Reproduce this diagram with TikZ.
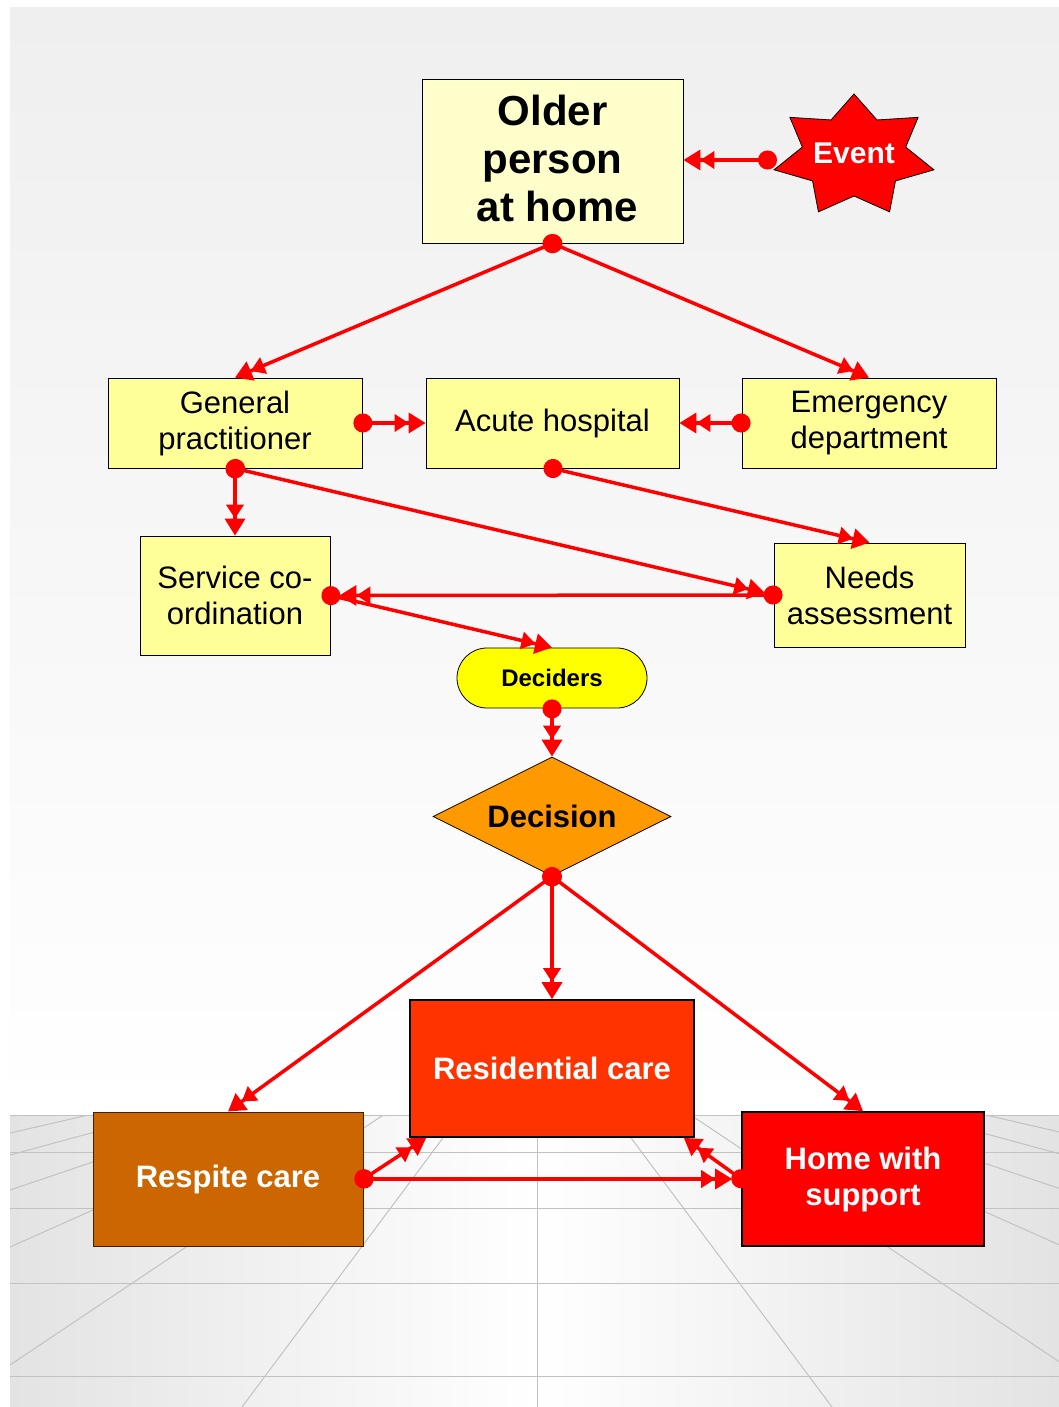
\documentclass[tikz,border=0pt]{standalone}
\usepackage{fontspec}
\setmainfont{Liberation Sans}
\usetikzlibrary{arrows.meta,shapes.geometric,calc}

\definecolor{boxyellow}{HTML}{FFFF99}
\definecolor{paleyellow}{HTML}{FFFFCC}
\definecolor{deciderfill}{HTML}{FFFF00}
\definecolor{decisionfill}{HTML}{FF9900}
\definecolor{residentialfill}{HTML}{FF3300}
\definecolor{respitefill}{HTML}{CC6600}
\definecolor{homefill}{HTML}{FF0000}
\definecolor{floorgrey}{HTML}{E3E3E3}
\definecolor{skytop}{HTML}{EFEFEF}
\definecolor{gridgrey}{HTML}{C2C2C2}
\definecolor{linkred}{HTML}{FF0000}

\begin{document}
\begin{tikzpicture}[x=1pt,y=-1pt,
  box/.style={draw=black, line width=0.8pt, fill=boxyellow, inner sep=0pt,
    align=center, font=\fontsize{31}{36}\selectfont},
  bigbox/.style={draw=black, line width=1.6pt, inner sep=0pt, align=center,
    text=white, font=\bfseries\fontsize{31}{36}\selectfont},
  gridline/.style={draw=gridgrey, line width=1pt},
  conn/.style={draw=linkred, line width=3.5pt, shorten <=-9pt,
    {Circle[length=19pt]}-{Triangle[length=14pt,width=17pt,sep=0pt]Triangle[length=17pt,width=20pt,sep=0pt]}},
  burst/.style={draw=black, line width=0.8pt, fill=homefill}
]
\useasboundingbox (0,0) rectangle (1059,1407);

% backdrop: wall fading towards the horizon, then the tiled floor
\fill[white] (0,0) rectangle (1059,1407);
\shade[top color=skytop, bottom color=white] (10,8) rectangle (1059,1115);
\shade[left color=floorgrey, right color=floorgrey, middle color=white] (10,1115) rectangle (1059,1407);

\begin{scope}
  \clip (10,1115) rectangle (1059,1407);
  \coordinate (vp) at (537,1012);
  \foreach \px/\py in {10/1133,10/1155,10/1190,10/1247,10/1365,242/1407,537/1407,
                       832/1407,1064/1365,1064/1247,1064/1190,1064/1155,1064/1133}
    \draw[gridline] (vp) -- ($(vp)!3!(\px,\py)$);
  \foreach \y in {1115,1152,1208,1283,1376}
    \draw[gridline] (10,\y) -- (1059,\y);
\end{scope}

% seven-pointed event burst
\draw[burst, shift={(854,156)}] (-90:82 and 62)
  \foreach \i in {1,...,7} { -- ({-90-(\i-0.5)*360/7}:53 and 40) -- ({-90-\i*360/7}:82 and 62) } -- cycle;
\node[text=white, font=\bfseries\fontsize{30}{36}\selectfont] (event) at (854,153) {Event};
\coordinate (evdot) at (768,160);

% nodes
\node[box, fill=paleyellow, minimum width=261pt, minimum height=164pt,
      font=\bfseries\fontsize{42}{48}\selectfont] (older) at (552.5,161)
      {Older\\person\\\hspace*{10pt}at home\rule[-6pt]{0pt}{0pt}};

\node[box, minimum width=254pt, minimum height=90pt] (gp) at (235,423) {General\\practitioner};
\node[box, minimum width=253pt, minimum height=90pt] (acute) at (552.5,423) {Acute hospital};
\node[box, minimum width=254pt, minimum height=90pt] (emerg) at (869,423) {Emergency\\department};
\node[box, minimum width=190pt, minimum height=119pt] (serv) at (235,595.5) {Service co-\\ordination};
\node[box, minimum width=191pt, minimum height=104pt] (needs) at (869.5,595) {Needs\\assessment};

\node[box, fill=deciderfill, rounded corners=30pt, minimum width=190pt, minimum height=60pt,
      font=\bfseries\fontsize{24}{28}\selectfont] (dec) at (552,678) {Deciders};

\node[draw=black, line width=0.8pt, fill=decisionfill, diamond, aspect=2, inner sep=0pt,
      minimum width=238pt, minimum height=119pt,
      font=\bfseries\fontsize{31}{36}\selectfont] (decis) at (552,816.5) {Decision};

\node[bigbox, fill=residentialfill, minimum width=284pt, minimum height=137pt] (resi) at (552,1068.5) {Residential care};
\node[bigbox, draw=black!70!respitefill, line width=1pt, fill=respitefill,
      minimum width=270pt, minimum height=134pt] (resp) at (228,1179) {Respite care};
\node[bigbox, fill=homefill, minimum width=242pt, minimum height=134pt] (home) at (863,1179) {Home with\\support};

% connectors
\draw[conn] (evdot) -- (evdot -| older.east);
\draw[conn] (older.south) -- (gp.north);
\draw[conn] (older.south) -- (emerg.north);
\draw[conn] (gp.east) -- (acute.west);
\draw[conn] (emerg.west) -- (acute.east);
\draw[conn] (gp.south) -- (serv.north);
\draw[conn, shorten >=9pt] (gp.south) -- (needs.west);
\draw[conn] (acute.south) -- (needs.north);
\draw[conn, shorten >=9pt] (needs.west) -- (serv.east);
\draw[conn] (serv.east) -- (dec.north);
\draw[conn] (dec.south) -- (decis.north);
\draw[conn] (decis.south) -- (resp.north);
\draw[conn] (decis.south) -- (resi.north);
\draw[conn] (decis.south) -- (home.north);
\draw[conn] (resp.east) -- ([xshift=17pt]resi.south west);
\draw[conn, shorten >=9pt] (resp.east) -- (home.west);
\draw[conn] (home.west) -- ([xshift=-11pt]resi.south east);
\end{tikzpicture}
\end{document}
